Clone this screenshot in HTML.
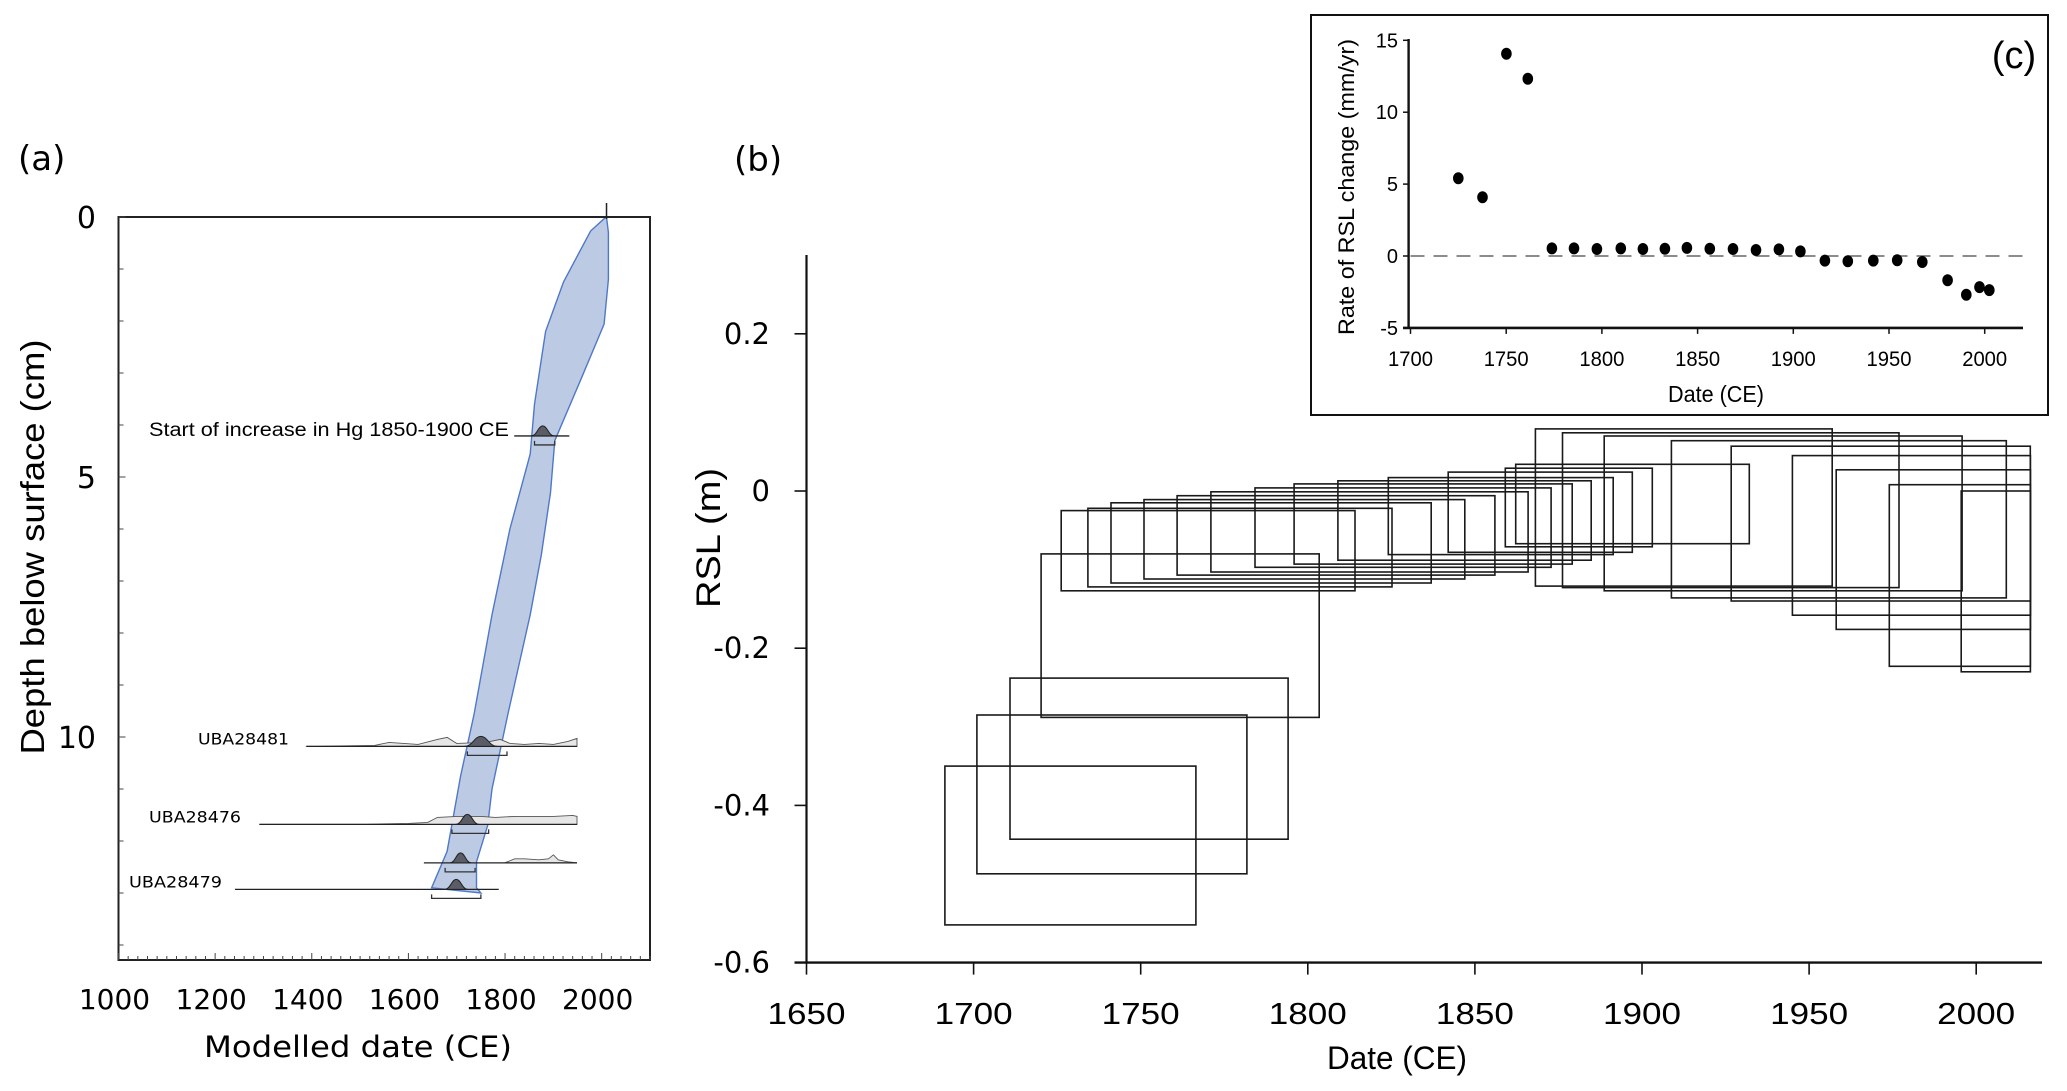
<!DOCTYPE html>
<html><head><meta charset="utf-8"><style>
html,body{margin:0;padding:0;background:#fff}
svg{display:block}
text{fill:#000}
</style></head><body>
<svg id="fig" width="2067" height="1091" xmlns="http://www.w3.org/2000/svg">
<rect width="2067" height="1091" fill="#fff"/>
<g id="pa"></g>
<g id="pb"></g>
<g id="pc"></g>
</svg>
<script>
// ---------- Panel (a) data ----------
const aXTicks = [1000,1200,1400,1600,1800,2000];
const aYTicks = [0,5,10];
const bandRightYears = [2010,2014,2014,2005,1958,1903,1894,1875,1852,1806,1773,1764,1741,1741,1750];
const bandRightDepths = [0,0.3,1.2,2.06,3.1,4.3,5.3,6.5,7.65,9.56,11,11.7,12.4,12.9,13.0];
const bandLeftYears = [1648,1680,1708,1736,1773,1810,1852,1861,1884,1921,1977,2009];
const bandLeftDepths = [12.9,12.2,10.75,9.56,7.65,6.0,4.56,3.6,2.2,1.25,0.27,0];
const dateLabels = ["Start of increase in Hg 1850-1900 CE","UBA28481","UBA28476","","UBA28479"];
const dateDepths = [4.21,10.18,11.68,12.42,12.93];
const dateLineFrom = [1819,1389,1292,1632,1241];
const dateLineTo = [1933,1949,1949,1949,1787];
const datePeak = [1878,1750,1722,1708,1699];
const datePeakHalf = [24,34,24,22,24];
const dateRangeFrom = [1861,1722,1690,1676,1648];
const dateRangeTo = [1903,1804,1766,1738,1750];
const priorYears1 = [1389,1530,1560,1620,1660,1680,1700,1760,1790,1810,1840,1870,1900,1930,1949,1949];
const priorH1 = [0,1,4,2,7,9,3,4,7,3,2,3,2,5,8,0];
const priorYears2 = [1292,1500,1600,1640,1660,1700,1750,1780,1820,1900,1940,1949,1949];
const priorH2 = [0,0,1,2,7,8,8,7,8,8,9,8,0];
const priorYears3 = [1800,1820,1840,1870,1890,1900,1910,1930,1949];
const priorH3 = [0,4,4,3,4,8,3,1,0];

// ---------- Panel (b) data ----------
const bXTicks = [1650,1700,1750,1800,1850,1900,1950,2000];
const bYTicks = [0.2,0,-0.2,-0.4,-0.6];
const boxDateMin = [1691.4,1701.0,1710.9,1720.2,1726.2,1734.2,1741.1,1751.0,1760.9,1771.0,1784.2,1795.9,1809.0,1824.1,1842.0,1859.1,1862.2,1868.1,1876.2,1888.7,1908.8,1926.7,1945.0,1958.1,1974.0,1995.5];
const boxDateMax = [1766.5,1781.8,1794.1,1803.4,1814.1,1825.2,1836.9,1847.0,1856.0,1865.9,1872.8,1879.1,1884.8,1891.4,1897.1,1903.1,1932.1,1956.9,1976.9,1995.8,2009.0,2016.2,2016.2,2016.2,2016.2,2016.2];
const boxRslMax = [-0.350,-0.285,-0.238,-0.080,-0.025,-0.022,-0.015,-0.011,-0.006,-0.001,0.004,0.009,0.013,0.017,0.024,0.029,0.034,0.079,0.074,0.070,0.064,0.057,0.045,0.027,0.008,0.000];
const boxRslMin = [-0.552,-0.487,-0.443,-0.288,-0.127,-0.122,-0.117,-0.112,-0.107,-0.103,-0.097,-0.093,-0.088,-0.081,-0.078,-0.071,-0.067,-0.121,-0.123,-0.127,-0.136,-0.140,-0.158,-0.176,-0.223,-0.230];

// ---------- Panel (c) data ----------
const cXTicks = [1700,1750,1800,1850,1900,1950,2000];
const cYTicks = [15,10,5,0,-5];
const rateDates = [1725.0,1737.6,1750.1,1761.3,1773.9,1785.4,1797.4,1809.9,1821.4,1832.9,1844.4,1856.4,1868.5,1880.5,1892.5,1903.7,1916.5,1928.5,1941.8,1954.3,1967.4,1980.6,1990.4,1997.3,2002.4];
const rateValues = [5.41,4.08,14.06,12.32,0.53,0.53,0.49,0.53,0.49,0.51,0.56,0.51,0.49,0.42,0.46,0.32,-0.32,-0.37,-0.32,-0.30,-0.42,-1.69,-2.69,-2.16,-2.37];

const NS = "http://www.w3.org/2000/svg";
function mk(parent, tag, attrs, txt){
  const e = document.createElementNS(NS, tag);
  for (const k in attrs) e.setAttribute(k, attrs[k]);
  if (txt !== undefined) e.textContent = txt;
  parent.appendChild(e);
  return e;
}

// ===== Panel (a) =====
(function(){
  const g = document.getElementById('pa');
  const L=118.5, R=650, T=217, B=960;
  const ax = y => L + (y-1000)*(R-L)/1100;
  const ay = d => T + d*52.0;
  let e;
  // band
  let pts = [];
  for (let i=0;i<bandRightYears.length;i++) pts.push(ax(bandRightYears[i]).toFixed(1)+','+ay(bandRightDepths[i]).toFixed(1));
  for (let i=0;i<bandLeftYears.length;i++) pts.push(ax(bandLeftYears[i]).toFixed(1)+','+ay(bandLeftDepths[i]).toFixed(1));
  e = mk(g,'polygon',{points:pts.join(' '),fill:'#bccae3',stroke:'#4f78c8','stroke-width':1.4});
  
  
  // frame
  e = mk(g,'rect',{x:L,y:T,width:R-L,height:B-T,fill:'none',stroke:'#222','stroke-width':2});
  
  
  // top marker
  e = mk(g,'line',{x1:ax(2010),x2:ax(2010),y1:T-14,y2:T+2,stroke:'#222','stroke-width':1.5});
  
  
  // minor ticks
  for (let yr=1000; yr<=2100; yr+=20){
    const big = yr%200===0;
    e = mk(g,'line',{x1:ax(yr),x2:ax(yr),y1:B,y2:B-(big?7:4),stroke:'#444','stroke-width':1});
    
    
  }
  for (let d=0; d<=14; d+=1){
    e = mk(g,'line',{x1:L,x2:L+(d%5===0?7:5),y1:ay(d),y2:ay(d),stroke:'#444','stroke-width':1});
    
    
  }
  aXTicks.forEach(v=>{
    e = mk(g,'text',{x:ax(v)-4,y:1009,'font-family':'DejaVu Sans, sans-serif','font-size':28,'text-anchor':'middle'},String(v));
    
    
  });
  aYTicks.forEach(v=>{
    e = mk(g,'text',{x:96,y:ay(v)+11,'font-family':'DejaVu Sans, sans-serif','font-size':30,'text-anchor':'end'},String(v));
    
    
  });
  e = mk(g,'text',{x:358,y:1057,'font-family':'DejaVu Sans, sans-serif','font-size':29,'text-anchor':'middle',textLength:308,lengthAdjust:'spacingAndGlyphs'},'Modelled date (CE)');
  
  
  e = mk(g,'text',{x:0,y:0,transform:'translate(44,547) rotate(-90)','font-family':'Liberation Sans, sans-serif','font-size':33,'text-anchor':'middle',textLength:415,lengthAdjust:'spacingAndGlyphs'},'Depth below surface (cm)');
  
  
  e = mk(g,'text',{x:18,y:170,'font-family':'DejaVu Sans, sans-serif','font-size':34},'(a)');
  
  

  const priors = [null,[priorYears1,priorH1],[priorYears2,priorH2],[priorYears3,priorH3],null];
  const labelX = [149,198,149,0,129];
  const labelW = [360,91,92,0,93];
  for (let i=0;i<dateDepths.length;i++){
    const y0 = ay(dateDepths[i]);
    const pr = priors[i];
    if (pr){
      let p = 'M'+ax(pr[0][0])+','+y0;
      for (let j=0;j<pr[0].length;j++) p += ' L'+ax(pr[0][j]).toFixed(1)+','+(y0-pr[1][j]).toFixed(1);
      p += ' Z';
      e = mk(g,'path',{d:p,fill:'#e6e6e6',stroke:'#555','stroke-width':0.9});
      
      
    }
    e = mk(g,'line',{x1:ax(dateLineFrom[i]),x2:ax(dateLineTo[i]),y1:y0,y2:y0,stroke:'#222','stroke-width':1.3});
    
    
    const pk = ax(datePeak[i]), hw = datePeakHalf[i]*(R-L)/1100;
    e = mk(g,'path',{d:`M${pk-hw},${y0} C${pk-hw*0.5},${y0} ${pk-hw*0.4},${y0-10} ${pk},${y0-10} C${pk+hw*0.4},${y0-10} ${pk+hw*0.5},${y0} ${pk+hw},${y0} Z`,fill:'#5a5d66',stroke:'#222','stroke-width':1});
    
    
    const yb = y0+9, b1=ax(dateRangeFrom[i]), b2=ax(dateRangeTo[i]);
    e = mk(g,'path',{d:`M${b1},${yb-4} L${b1},${yb} L${b2},${yb} L${b2},${yb-4}`,fill:'none',stroke:'#333','stroke-width':1.3});
    
    
    if (dateLabels[i]){
      e = mk(g,'text',{x:labelX[i],y:y0+(i===0?0:-2),'font-family':i===0?'Liberation Sans, sans-serif':'DejaVu Sans, sans-serif','font-size':i===0?19:16,textLength:labelW[i],lengthAdjust:'spacingAndGlyphs'},dateLabels[i]);
      
      
    }
  }
})();

// ===== Panel (b) =====
(function(){
  const g = document.getElementById('pb');
  const X0=806.5, Y0=491;
  const bx = y => X0 + (y-1650)*3.342;
  const by = r => Y0 - r*786;
  let e;
  for (let i=0;i<boxDateMin.length;i++){
    const x1=bx(boxDateMin[i]), x2=bx(boxDateMax[i]), y1=by(boxRslMax[i]), y2=by(boxRslMin[i]);
    e = mk(g,'rect',{x:x1.toFixed(1),y:y1.toFixed(1),width:(x2-x1).toFixed(1),height:(y2-y1).toFixed(1),fill:'none',stroke:'#1a1a1a','stroke-width':1.6});
    
    
  }
  e = mk(g,'line',{x1:X0,x2:X0,y1:255,y2:by(-0.6),stroke:'#111','stroke-width':2.2});
  
  
  e = mk(g,'line',{x1:X0-12,x2:2042,y1:by(-0.6),y2:by(-0.6),stroke:'#111','stroke-width':2.4});
  
  
  bYTicks.forEach(v=>{
    e = mk(g,'line',{x1:X0-12,x2:X0,y1:by(v),y2:by(v),stroke:'#111','stroke-width':1.6});
    
    
    e = mk(g,'text',{x:770,y:by(v)+10,'font-family':'DejaVu Sans, sans-serif','font-size':29,'text-anchor':'end'},v===0?'0':v.toFixed(1));
    
    
  });
  bXTicks.forEach(v=>{
    e = mk(g,'line',{x1:bx(v),x2:bx(v),y1:by(-0.6),y2:by(-0.6)+12,stroke:'#111','stroke-width':1.6});
    
    
    e = mk(g,'text',{x:bx(v),y:1024,'font-family':'Liberation Sans, sans-serif','font-size':31,'text-anchor':'middle',textLength:78,lengthAdjust:'spacingAndGlyphs'},String(v));
    
    
  });
  e = mk(g,'text',{x:1397,y:1069,'font-family':'Liberation Sans, sans-serif','font-size':32,'text-anchor':'middle',textLength:140,lengthAdjust:'spacingAndGlyphs'},'Date (CE)');
  
  
  e = mk(g,'text',{x:0,y:0,transform:'translate(720,538) rotate(-90)','font-family':'Liberation Sans, sans-serif','font-size':34,'text-anchor':'middle',textLength:140,lengthAdjust:'spacingAndGlyphs'},'RSL (m)');
  
  
  e = mk(g,'text',{x:734,y:171,'font-family':'DejaVu Sans, sans-serif','font-size':34},'(b)');
  
  
})();

// ===== Panel (c) =====
(function(){
  const g = document.getElementById('pc');
  const X0=1410.5, Y0=256;
  const cx = y => X0 + (y-1700)*1.914;
  const cy = r => Y0 - r*14.38;
  let e;
  e = mk(g,'rect',{x:1311,y:15,width:737,height:400,fill:'#fff',stroke:'#111','stroke-width':2});
  
  
  e = mk(g,'line',{x1:X0,x2:2029,y1:cy(0),y2:cy(0),stroke:'#666','stroke-width':1.6,'stroke-dasharray':'14,9'});
  
  
  e = mk(g,'line',{x1:1408.6,x2:1408.6,y1:39,y2:cy(-5),stroke:'#111','stroke-width':2.4});
  
  
  e = mk(g,'line',{x1:1403,x2:2023,y1:cy(-5),y2:cy(-5),stroke:'#111','stroke-width':2.6});
  
  
  cYTicks.forEach(v=>{
    e = mk(g,'line',{x1:1403,x2:1409,y1:cy(v),y2:cy(v),stroke:'#111','stroke-width':1.5});
    
    
    e = mk(g,'text',{x:1398,y:cy(v)+7,'font-family':'Liberation Sans, sans-serif','font-size':20,'text-anchor':'end'},String(v));
    
    
  });
  cXTicks.forEach(v=>{
    e = mk(g,'line',{x1:cx(v),x2:cx(v),y1:cy(-5),y2:cy(-5)+6,stroke:'#111','stroke-width':1.5});
    
    
    e = mk(g,'text',{x:cx(v),y:366,'font-family':'Liberation Sans, sans-serif','font-size':21,'text-anchor':'middle',textLength:45,lengthAdjust:'spacingAndGlyphs'},String(v));
    
    
  });
  for (let i=0;i<rateDates.length;i++){
    e = mk(g,'ellipse',{cx:cx(rateDates[i]).toFixed(1),cy:cy(rateValues[i]).toFixed(1),rx:5.3,ry:6,fill:'#000'});
    
    
  }
  e = mk(g,'text',{x:1716,y:402,'font-family':'Liberation Sans, sans-serif','font-size':23,'text-anchor':'middle',textLength:96,lengthAdjust:'spacingAndGlyphs'},'Date (CE)');
  
  
  e = mk(g,'text',{x:0,y:0,transform:'translate(1354,187) rotate(-90)','font-family':'Liberation Sans, sans-serif','font-size':22,'text-anchor':'middle',textLength:296,lengthAdjust:'spacingAndGlyphs'},'Rate of RSL change (mm/yr)');
  
  
  e = mk(g,'text',{x:2014,y:68,'font-family':'Liberation Sans, sans-serif','font-size':38,'text-anchor':'middle'},'(c)');
  
  
})();
</script>
</body></html>
